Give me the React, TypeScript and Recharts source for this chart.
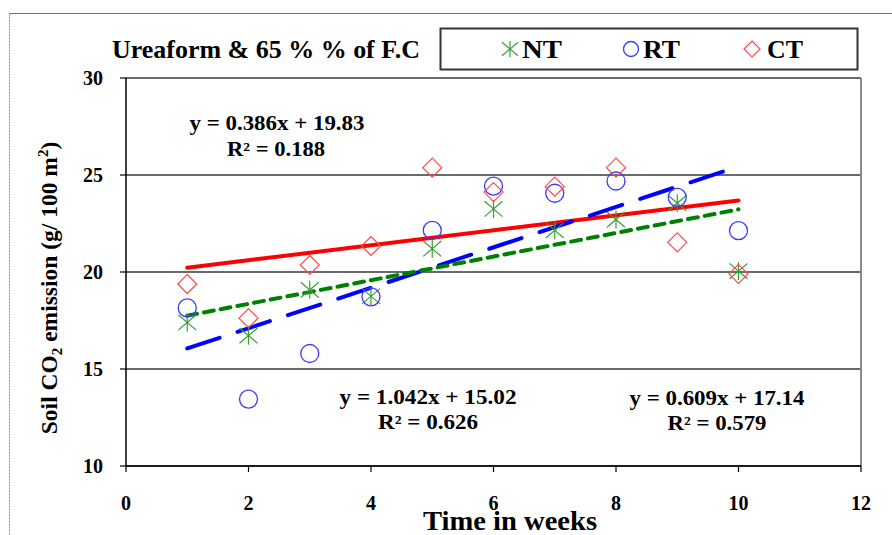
import React from 'react';
import { ComposedChart, Scatter, Line, XAxis, YAxis, CartesianGrid, ReferenceLine } from 'recharts';

const weeks = [1, 2, 3, 4, 5, 6, 7, 8, 9, 10];
const ntValues = [17.4, 16.72, 19.08, 18.75, 21.2, 23.25, 22.15, 22.7, 23.55, 20.05];
const rtValues = [18.15, 13.45, 15.8, 18.72, 22.15, 24.43, 24.06, 24.69, 23.85, 22.13];
const ctValues = [19.38, 17.62, 20.36, 21.34, 25.38, 24.12, 24.4, 25.38, 21.53, 19.9];

const trendX = [1, 10];
const ntTrend = [17.75, 23.23];
const rtTrend = [16.06, 25.44];
const ctTrend = [20.22, 23.69];

const xTicks = [0, 2, 4, 6, 8, 10, 12];
const yTicks = [10, 15, 20, 25, 30];

const seriesNames = ['NT', 'RT', 'CT'];
const titleText = 'Ureaform & 65 % % of F.C';
const eqCT = ['y = 0.386x + 19.83', 'R\u00B2 = 0.188'];
const eqRT = ['y = 1.042x + 15.02', 'R\u00B2 = 0.626'];
const eqNT = ['y = 0.609x + 17.14', 'R\u00B2 = 0.579'];

const toPoints = (xs: number[], ys: number[]) => xs.map((x, i) => ({ x, y: ys[i] }));

const ntData = toPoints(weeks, ntValues);
const rtData = toPoints(weeks, rtValues);
const ctData = toPoints(weeks, ctValues);
const ntTrendData = toPoints(trendX, ntTrend);
const rtTrendData = toPoints(trendX, rtTrend);
const ctTrendData = toPoints(trendX, ctTrend);

const GREEN_M = '#34a034';
const BLUE_M = '#3a3aff';
const RED_M = '#ff4a4a';
const FONT = '"Liberation Serif", "Times New Roman", serif';

const Star = ({ cx, cy, h = 9, color = GREEN_M }: any) => (
  <g stroke={color} strokeWidth={1.2} fill="none">
    <line x1={cx - h} y1={cy - h * 0.85} x2={cx + h} y2={cy + h * 0.85} />
    <line x1={cx - h} y1={cy + h * 0.85} x2={cx + h} y2={cy - h * 0.85} />
    <line x1={cx} y1={cy - h} x2={cx} y2={cy + h} />
  </g>
);

const Circ = ({ cx, cy, r = 9, color = BLUE_M }: any) => (
  <circle cx={cx} cy={cy} r={r} stroke={color} strokeWidth={1.3} fill="none" />
);

const Diam = ({ cx, cy, h = 9.5, color = RED_M }: any) => (
  <path
    d={`M${cx},${cy - h} L${cx + h},${cy} L${cx},${cy + h} L${cx - h},${cy} Z`}
    stroke={color}
    strokeWidth={1.2}
    fill="none"
  />
);

const txt = (
  s: string,
  x: number,
  y: number,
  size: number,
  len: number,
  anchor: 'start' | 'middle' = 'middle'
) => (
  <text
    x={x}
    y={y}
    fontFamily={FONT}
    fontWeight="bold"
    fontSize={size}
    fill="#000"
    textAnchor={anchor}
    textLength={len}
    lengthAdjust="spacingAndGlyphs"
  >
    {s}
  </text>
);

export default function App() {
  return (
    <div style={{ position: 'absolute', left: 0, top: 0, width: 892, height: 535, background: '#fff' }}>
      <ComposedChart
        width={892}
        height={535}
        margin={{ top: 78, right: 31, bottom: 0, left: 0 }}
        style={{ fontFamily: FONT }}
      >
        <CartesianGrid horizontal vertical={false} stroke="#3a3a3a" strokeWidth={1.5} />
        <ReferenceLine x={12} stroke="#8a8a8a" strokeWidth={2} ifOverflow="visible" />
        <XAxis
          type="number"
          dataKey="x"
          domain={[0, 12]}
          ticks={xTicks}
          allowDataOverflow
          height={69}
          tickSize={6}
          tickMargin={24}
          axisLine={{ stroke: '#000', strokeWidth: 1.5 }}
          tickLine={{ stroke: '#000', strokeWidth: 1.2 }}
          tick={{ fill: '#000', fontSize: 20, fontWeight: 'bold', fontFamily: FONT }}
        />
        <YAxis
          type="number"
          dataKey="y"
          domain={[10, 30]}
          ticks={yTicks}
          allowDataOverflow
          width={126}
          tickSize={6}
          tickMargin={17}
          axisLine={{ stroke: '#000', strokeWidth: 1.5 }}
          tickLine={{ stroke: '#000', strokeWidth: 1.2 }}
          tick={{ fill: '#000', fontSize: 20, fontWeight: 'bold', fontFamily: FONT }}
        />
        <Scatter name="NT" data={ntData} isAnimationActive={false} shape={(p: any) => <Star cx={p.cx} cy={p.cy} />} />
        <Scatter name="RT" data={rtData} isAnimationActive={false} shape={(p: any) => <Circ cx={p.cx} cy={p.cy} />} />
        <Scatter name="CT" data={ctData} isAnimationActive={false} shape={(p: any) => <Diam cx={p.cx} cy={p.cy} />} />
        <Line
          data={ctTrendData}
          dataKey="y"
          stroke="#ff0000"
          strokeWidth={4}
          dot={false}
          activeDot={false}
          isAnimationActive={false}
          strokeLinecap="round"
        />
        <Line
          data={rtTrendData}
          dataKey="y"
          stroke="#0000ff"
          strokeWidth={4}
          strokeDasharray="34 19"
          dot={false}
          activeDot={false}
          isAnimationActive={false}
          strokeLinecap="round"
        />
        <Line
          data={ntTrendData}
          dataKey="y"
          stroke="#008000"
          strokeWidth={4}
          strokeDasharray="10 7"
          dot={false}
          activeDot={false}
          isAnimationActive={false}
          strokeLinecap="round"
        />
      </ComposedChart>
      <svg
        width={892}
        height={535}
        style={{ position: 'absolute', left: 0, top: 0, pointerEvents: 'none' }}
      >
        <line x1={9.5} y1={13.5} x2={892} y2={13.5} stroke="#707070" strokeWidth={1} />
        <line x1={9.5} y1={13.5} x2={9.5} y2={535} stroke="#8a8a8a" strokeWidth={1} strokeDasharray="2 1" />
        {txt(titleText, 112, 58, 26, 308, 'start')}
        <rect x={440.5} y={28.5} width={417} height={41} fill="#fff" stroke="#333" strokeWidth={2} />
        <Star cx={510} cy={49} h={8} />
        {txt(seriesNames[0], 522, 57.5, 26, 40, 'start')}
        <Circ cx={631} cy={49} r={7.5} />
        {txt(seriesNames[1], 643, 57.5, 26, 37, 'start')}
        <Diam cx={752} cy={49} h={8} />
        {txt(seriesNames[2], 767, 57.5, 26, 36, 'start')}

        {txt(eqCT[0], 277, 130, 20, 175)}
        {txt(eqCT[1], 276, 156, 20, 98)}
        {txt(eqRT[0], 428, 404, 20, 177)}
        {txt(eqRT[1], 428, 429, 20, 100)}
        {txt(eqNT[0], 717, 405, 20, 175)}
        {txt(eqNT[1], 717, 430, 20, 99)}

        {txt('Time in weeks', 423, 530, 28, 174, 'start')}

        <text
          transform="translate(57,288) rotate(-90)"
          x={0}
          y={0}
          fontFamily={FONT}
          fontWeight="bold"
          fontSize={23.5}
          fill="#000"
          textAnchor="middle"
        >
          <tspan>Soil CO</tspan>
          <tspan fontSize={15} dy={5}>2</tspan>
          <tspan dy={-5}> emission (g/ 100 m</tspan>
          <tspan fontSize={15} dy={-9}>2</tspan>
          <tspan dy={9}>)</tspan>
        </text>
      </svg>
    </div>
  );
}
